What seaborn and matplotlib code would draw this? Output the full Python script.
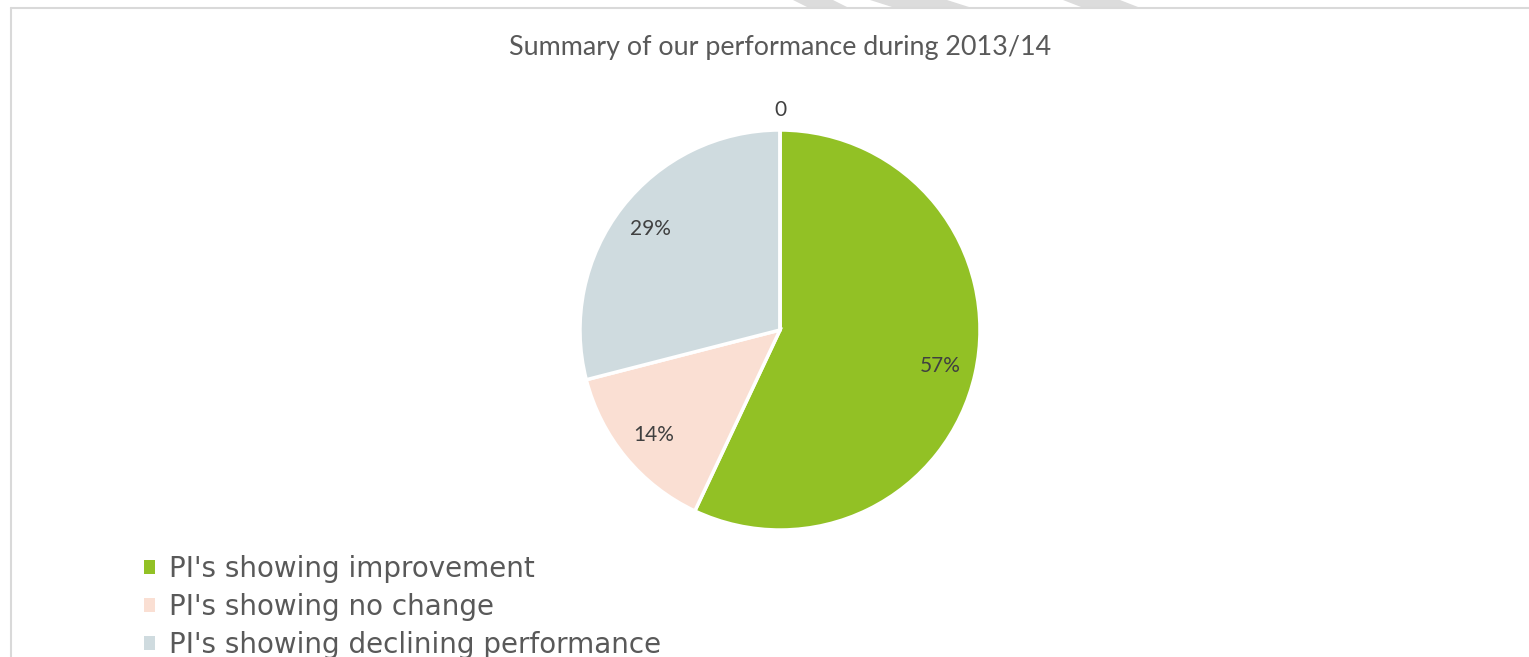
import matplotlib
matplotlib.use("Agg")
import matplotlib.pyplot as plt
from matplotlib.patches import Polygon
import numpy as np
import seaborn as sns

# Performance indicator summary, 2013/14
categories = [
    "PI's showing improvement",
    "PI's showing no change",
    "PI's showing declining performance",
    "",
]
shares = [57, 14, 29, 0]
slice_colors = ["#92C125", "#FADFD3", "#CFDBDF", "#B0B0B0"]
title_text = "Summary of our performance during 2013/14"

sns.set_theme(style="white")
palette = sns.color_palette(slice_colors)

W, H = 1529, 657
fig = plt.figure(figsize=(W / 100, H / 100), dpi=100)
fig.patch.set_facecolor("white")

# faint diagonal strokes along the top edge
for x0, x1, dx in [(793, 833, 14), (870, 947, 22), (1063, 1120, 18)]:
    fig.add_artist(Polygon([(x0 / W, 1), (x1 / W, 1), ((x1 + dx) / W, 1 - 7 / H),
                            ((x0 + dx) / W, 1 - 7 / H)], closed=True,
                           transform=fig.transFigure, facecolor="#DCDCDC",
                           edgecolor="none"))

# chart frame (top and left edges visible)
frame_color = "#D9D9D9"
fig.add_artist(plt.Line2D([11 / W, 1], [1 - 7.5 / H, 1 - 7.5 / H],
                          transform=fig.transFigure, color=frame_color, lw=1.5))
fig.add_artist(plt.Line2D([11 / W, 11 / W], [0, 1 - 7.5 / H],
                          transform=fig.transFigure, color=frame_color, lw=1.5))

ax = fig.add_axes([0, 0, 1, 1])

cx, cy, r = 780, H - 330, 200
wedges, _ = ax.pie(shares, colors=palette, startangle=90, counterclock=False,
                   center=(cx, cy), radius=r, frame=True,
                   wedgeprops=dict(edgecolor="white", linewidth=2.5))
ax.set_xlim(0, W)
ax.set_ylim(0, H)
ax.set_aspect("equal")
ax.axis("off")

# slice labels
for w, v in zip(wedges, shares):
    mid = np.deg2rad((w.theta1 + w.theta2) / 2)
    if v > 0:
        d = 0.82 * r
        txt = f"{v}%"
    else:
        d = 1.1 * r
        txt = f"{v}"
    ax.text(cx + d * np.cos(mid), cy + d * np.sin(mid), txt,
            ha="center", va="center", fontsize=15, color="#404040",
            family="Lato")

fig.text(780 / W, 1 - 47 / H, title_text, ha="center", va="center",
         fontsize=19.4, color="#595959", family="Lato")

leg = fig.legend(wedges[:3], categories[:3], loc="upper left",
                 bbox_to_anchor=(130 / W, 1 - 541 / H), frameon=False,
                 fontsize=20, handlelength=0.4, handleheight=0.4,
                 handletextpad=0.5, labelspacing=0.36, borderpad=0,
                 labelcolor="#595959")
for h in leg.legend_handles:
    h.set_edgecolor("none")

fig.savefig("out.png", dpi=100, facecolor="white")
